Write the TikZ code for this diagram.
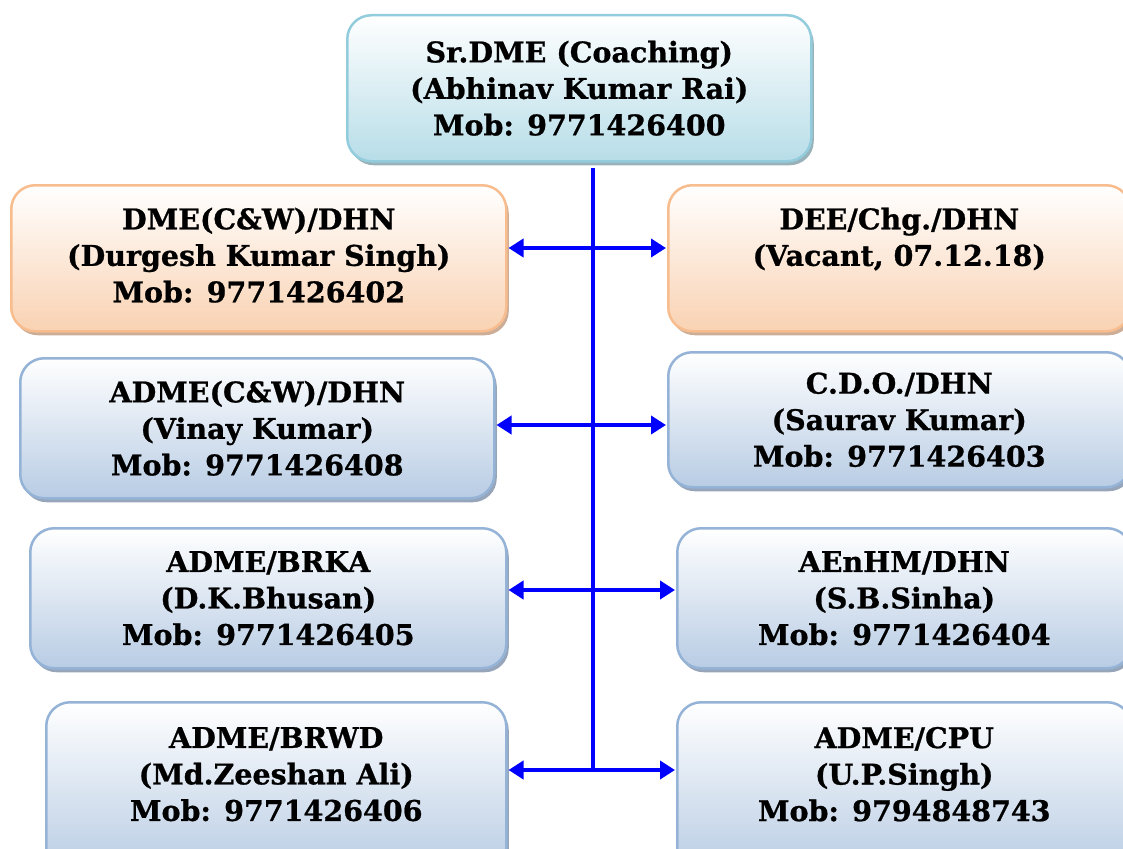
\documentclass[tikz,border=0pt]{standalone}
\usepackage{fontspec}
\setmainfont{DejaVu Serif}[BoldFeatures={FakeBold=0.8}]
\usetikzlibrary{shadows,arrows.meta}
\definecolor{tealedge}{HTML}{93CDDD}
\definecolor{tealfill}{HTML}{B7DDE8}
\definecolor{tealshadow}{HTML}{8FAAB2}
\definecolor{orangeedge}{HTML}{F7BD8E}
\definecolor{orangefill}{HTML}{F9D2B2}
\definecolor{orangeshadow}{HTML}{C7A58C}
\definecolor{blueedge}{HTML}{95B3D7}
\definecolor{bluefill}{HTML}{B8CCE4}
\definecolor{blueshadow}{HTML}{8B9CB2}
\definecolor{connblue}{HTML}{0000FF}
\tikzset{
  orgbox/.style={rectangle, rounded corners=24pt, line width=2.5pt, inner sep=0pt,
    anchor=north west, align=center, font=\fontsize{28.5}{36.5}\selectfont\bfseries,
    text=black},
  tealbox/.style={orgbox, draw=tealedge, top color=white, bottom color=tealfill,
    drop shadow={shadow xshift=2.5pt, shadow yshift=-4pt, fill=tealshadow, opacity=0.9}},
  orangebox/.style={orgbox, draw=orangeedge, top color=white, bottom color=orangefill,
    drop shadow={shadow xshift=2.5pt, shadow yshift=-4pt, fill=orangeshadow, opacity=0.9}},
  bluebox/.style={orgbox, draw=blueedge, top color=white, bottom color=bluefill,
    drop shadow={shadow xshift=2.5pt, shadow yshift=-4pt, fill=blueshadow, opacity=0.9}},
  conn/.style={draw=connblue, line width=4pt},
  biarrow/.style={conn, {Triangle[length=15pt,width=18pt]}-{Triangle[length=15pt,width=18pt]}, shorten <=1pt, shorten >=1pt}
}
\begin{document}
\begin{tikzpicture}[x=1pt,y=-1pt]
\useasboundingbox (0,0) rectangle (1123,848);
\fill[white] (0,0) rectangle (1123,848);

\node[tealbox, minimum width=464pt, minimum height=146pt] (top) at (346,14)
  {Sr.DME (Coaching)\\(Abhinav Kumar Rai)\\Mob: 9771426400};

\node[orangebox, minimum width=495pt, minimum height=146pt] (dme) at (10,184)
  {DME(C\&W)/DHN\\(Durgesh Kumar Singh)\\Mob: 9771426402\\[-30pt]\mbox{}};
\node[orangebox, minimum width=462pt, minimum height=146pt] (dee) at (667,184)
  {DEE/Chg./DHN\\(Vacant, 07.12.18)\\\mbox{}\\[-30pt]\mbox{}};

\node[bluebox, minimum width=474pt, minimum height=140pt] (admecw) at (19,357)
  {ADME(C\&W)/DHN\\(Vinay Kumar)\\Mob: 9771426408};
\node[bluebox, minimum width=462pt, minimum height=135pt] (cdo) at (667,351)
  {C.D.O./DHN\\(Saurav Kumar)\\Mob: 9771426403};

\node[bluebox, minimum width=476pt, minimum height=140pt] (brka) at (29,527)
  {ADME/BRKA\\(D.K.Bhusan)\\Mob: 9771426405};
\node[bluebox, minimum width=454pt, minimum height=140pt] (aenhm) at (676,527)
  {AEnHM/DHN\\(S.B.Sinha)\\Mob: 9771426404};

\node[bluebox, minimum width=460pt, minimum height=170pt] (brwd) at (45,701)
  {ADME/BRWD\\(Md.Zeeshan Ali)\\Mob: 9771426406\\[-10pt]\mbox{}};
\node[bluebox, minimum width=454pt, minimum height=170pt] (cpu) at (676,701)
  {ADME/CPU\\(U.P.Singh)\\Mob: 9794848743\\[-10pt]\mbox{}};

\coordinate (vtop) at (593,168);
\coordinate (r1) at (593,248);
\coordinate (r2) at (593,425);
\coordinate (r3) at (593,590);
\coordinate (r4) at (593,770);

\draw[conn] (vtop) -- ([yshift=-2pt]r4);
\draw[biarrow] (dme.east |- r1) -- (dee.west |- r1);
\draw[biarrow] (admecw.east |- r2) -- (cdo.west |- r2);
\draw[biarrow] (brka.east |- r3) -- (aenhm.west |- r3);
\draw[biarrow] (brwd.east |- r4) -- (cpu.west |- r4);
\end{tikzpicture}
\end{document}
